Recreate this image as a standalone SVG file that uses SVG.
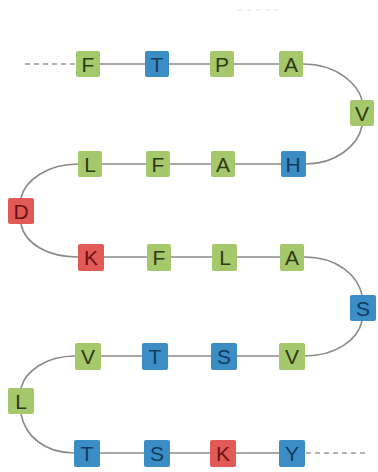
<svg xmlns="http://www.w3.org/2000/svg" width="378" height="472" viewBox="0 0 378 472">
<defs>
<style>
.g rect{fill:#a6c86c}
.g text{fill:#2c3a12}
.b rect{fill:#3b8dc6}
.b text{fill:#123b5c}
.r rect{fill:#e25a57}
.r text{fill:#6b1212}
text{font-family:"Liberation Sans",Arial,sans-serif;font-size:21px;text-anchor:middle;dominant-baseline:central}
.ln{stroke:#8a8a8a;stroke-width:1.6;fill:none}
.dash{stroke:#9a9a9a;stroke-width:1.6;fill:none;stroke-dasharray:5 4}
</style>
</defs>
<rect width="378" height="472" fill="#ffffff"/>
<g id="connectors">
<line class="dash" x1="238" y1="10" x2="280" y2="10" style="stroke:#ececec"/>
<line class="dash" x1="25" y1="64" x2="76" y2="64"/>
<line class="ln" x1="100" y1="64" x2="145" y2="64"/>
<line class="ln" x1="169" y1="64" x2="210" y2="64"/>
<line class="ln" x1="234" y1="64" x2="279" y2="64"/>
<path class="ln" d="M303,64 C338,64 358,85 362,100"/>
<path class="ln" d="M362,126 C358,146 335,164 306,164"/>
<line class="ln" x1="102" y1="164" x2="146" y2="164"/>
<line class="ln" x1="170" y1="164" x2="211" y2="164"/>
<line class="ln" x1="235" y1="164" x2="281" y2="164"/>
<path class="ln" d="M78,164 C48,164 25,180 21,198"/>
<path class="ln" d="M21,224 C25,244 48,257 78,257"/>
<line class="ln" x1="104" y1="257" x2="147" y2="257"/>
<line class="ln" x1="171" y1="257" x2="212" y2="257"/>
<line class="ln" x1="237" y1="257" x2="280" y2="257"/>
<path class="ln" d="M304,257 C338,257 358,276 362,295"/>
<path class="ln" d="M362,321 C358,340 335,356 305,356"/>
<line class="ln" x1="101" y1="356" x2="142" y2="356"/>
<line class="ln" x1="168" y1="356" x2="211" y2="356"/>
<line class="ln" x1="237" y1="356" x2="279" y2="356"/>
<path class="ln" d="M75,356 C45,356 25,372 21,388"/>
<path class="ln" d="M21,414 C25,436 45,453 74,453"/>
<line class="ln" x1="100" y1="453" x2="144" y2="453"/>
<line class="ln" x1="170" y1="453" x2="210" y2="453"/>
<line class="ln" x1="236" y1="453" x2="279" y2="453"/>
<line class="dash" x1="306" y1="453" x2="365" y2="453"/>
</g>
<g id="n1" class="g"><rect x="76" y="51" width="24" height="26" rx="2"/><text x="88" y="64">F</text></g>
<g id="n2" class="b"><rect x="145" y="51" width="24" height="26" rx="2"/><text x="157" y="64">T</text></g>
<g id="n3" class="g"><rect x="210" y="51" width="24" height="26" rx="2"/><text x="222" y="64">P</text></g>
<g id="n4" class="g"><rect x="279" y="51" width="24" height="26" rx="2"/><text x="291" y="64">A</text></g>
<g id="n5" class="g"><rect x="350" y="100" width="24" height="26" rx="2"/><text x="362" y="113">V</text></g>
<g id="n6" class="b"><rect x="281" y="151" width="25" height="26" rx="2"/><text x="293" y="164">H</text></g>
<g id="n7" class="g"><rect x="211" y="151" width="24" height="26" rx="2"/><text x="223" y="164">A</text></g>
<g id="n8" class="g"><rect x="146" y="151" width="24" height="26" rx="2"/><text x="158" y="164">F</text></g>
<g id="n9" class="g"><rect x="78" y="151" width="24" height="26" rx="2"/><text x="90" y="164">L</text></g>
<g id="n10" class="r"><rect x="8" y="198" width="26" height="26" rx="2"/><text x="21" y="211">D</text></g>
<g id="n11" class="r"><rect x="78" y="244" width="26" height="27" rx="2"/><text x="91" y="257">K</text></g>
<g id="n12" class="g"><rect x="147" y="244" width="24" height="27" rx="2"/><text x="159" y="257">F</text></g>
<g id="n13" class="g"><rect x="212" y="244" width="25" height="27" rx="2"/><text x="225" y="257">L</text></g>
<g id="n14" class="g"><rect x="280" y="244" width="24" height="27" rx="2"/><text x="292" y="257">A</text></g>
<g id="n15" class="b"><rect x="350" y="295" width="26" height="26" rx="2"/><text x="363" y="308">S</text></g>
<g id="n16" class="g"><rect x="279" y="343" width="26" height="27" rx="2"/><text x="292" y="356">V</text></g>
<g id="n17" class="b"><rect x="211" y="343" width="26" height="27" rx="2"/><text x="224" y="356">S</text></g>
<g id="n18" class="b"><rect x="142" y="343" width="26" height="27" rx="2"/><text x="155" y="356">T</text></g>
<g id="n19" class="g"><rect x="75" y="343" width="26" height="27" rx="2"/><text x="88" y="356">V</text></g>
<g id="n20" class="g"><rect x="8" y="388" width="26" height="26" rx="2"/><text x="21" y="401">L</text></g>
<g id="n21" class="b"><rect x="74" y="440" width="26" height="27" rx="2"/><text x="87" y="453">T</text></g>
<g id="n22" class="b"><rect x="144" y="440" width="26" height="27" rx="2"/><text x="157" y="453">S</text></g>
<g id="n23" class="r"><rect x="210" y="440" width="26" height="27" rx="2"/><text x="223" y="453">K</text></g>
<g id="n24" class="b"><rect x="279" y="440" width="26" height="27" rx="2"/><text x="292" y="453">Y</text></g>
</svg>
